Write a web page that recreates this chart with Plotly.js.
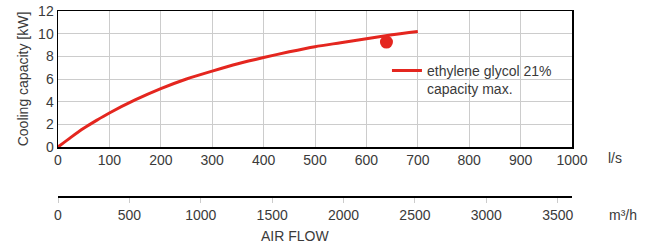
<!DOCTYPE html>
<html><head><meta charset="utf-8">
<script src="https://cdn.plot.ly/plotly-3.0.1.min.js"></script>
<style>html,body{margin:0;padding:0;background:#fff}#c{width:653px;height:247px}</style>
</head><body><div id="c"></div>
<script>
const airflowLs = [0, 25, 50, 75, 100, 150, 200, 250, 300, 350, 400, 450, 500, 550, 600, 650, 700];
const capacityKw = [0, 0.85, 1.65, 2.35, 3.0, 4.15, 5.15, 6.0, 6.7, 7.35, 7.9, 8.4, 8.85, 9.2, 9.55, 9.9, 10.2];
const maxPointLs = [639];
const maxPointKw = [9.26];
const seriesName = "ethylene glycol 21%<br>capacity max.";
const xTicksLs = [0,100,200,300,400,500,600,700,800,900,1000];
const xTicksM3h = [0,500,1000,1500,2000,2500,3000,3500];
const yTicks = [0,2,4,6,8,10,12];

const red = '#e4261f';
const txt = '#3a3a3a';
const fnt = {family: 'Liberation Sans, Arial, sans-serif', size: 14, color: txt};

const traces = [
  {x: airflowLs, y: capacityKw, type: 'scatter', mode: 'lines', name: seriesName,
   line: {color: red, width: 3, shape: 'spline', smoothing: 0.8}, xaxis: 'x', yaxis: 'y', hoverinfo: 'skip'},
  {x: maxPointLs, y: maxPointKw, type: 'scatter', mode: 'markers', showlegend: false,
   marker: {color: red, size: 13}, xaxis: 'x', yaxis: 'y', hoverinfo: 'skip'},
  {x: [null], y: [null], type: 'scatter', mode: 'markers', showlegend: false,
   xaxis: 'x2', yaxis: 'y2', hoverinfo: 'skip'}
];

const layout = {
  width: 653, height: 247,
  margin: {l: 58, r: 81, t: 11, b: 30},
  paper_bgcolor: '#fff', plot_bgcolor: '#fff',
  font: fnt,
  showlegend: true,
  legend: {x: 0.64, y: 0.787, xanchor: 'left', yanchor: 'top', valign: 'top',
           bgcolor: 'rgba(0,0,0,0)', font: fnt, tracegroupgap: 0},
  xaxis: {range: [0, 1000], tickvals: xTicksLs, ticks: '', showgrid: true, gridcolor: '#cccccc', gridwidth: 1,
          showline: true, mirror: true, linecolor: '#000', linewidth: 1.5, zeroline: false,
          tickfont: fnt, anchor: 'y', fixedrange: true},
  yaxis: {domain: [0.3398, 1], range: [0, 12], tickvals: yTicks, ticks: '', showgrid: true, gridcolor: '#cccccc',
          showline: true, mirror: true, linecolor: '#000', linewidth: 1.5, zeroline: false,
          tickfont: fnt, title: {text: 'Cooling capacity [kW]', font: fnt, standoff: 6}, fixedrange: true},
  xaxis2: {range: [0, 3600], tickvals: xTicksM3h, ticks: 'outside', ticklen: 5, tickcolor: '#cccccc', tickwidth: 1,
           showgrid: false, showline: true, linecolor: '#000', linewidth: 2, zeroline: false,
           tickfont: fnt, anchor: 'y2', fixedrange: true},
  yaxis2: {domain: [0.1019, 0.2], range: [0, 1], visible: false, fixedrange: true},
  annotations: [
    {text: 'l/s', xref: 'paper', yref: 'paper', x: 1.0837, y: 0.2864, showarrow: false, font: fnt, xanchor: 'center', yanchor: 'middle'},
    {text: 'm³/h', xref: 'paper', yref: 'paper', x: 1.099, y: 0.0097, showarrow: false, font: fnt, xanchor: 'center', yanchor: 'middle'},
    {text: 'AIR FLOW', xref: 'paper', yref: 'paper', x: 0.461, y: -0.092, showarrow: false, font: fnt, xanchor: 'center', yanchor: 'middle'}
  ]
};

Plotly.newPlot('c', traces, layout, {displayModeBar: false, staticPlot: true});
</script></body></html>
